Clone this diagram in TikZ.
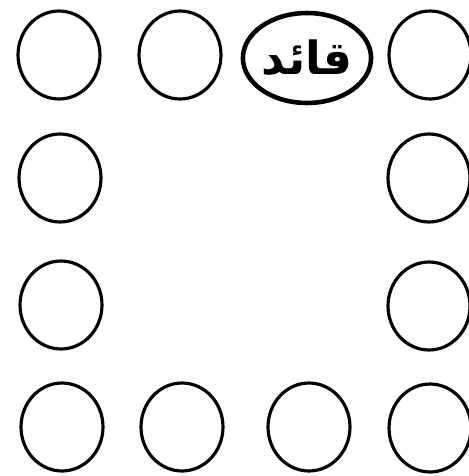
\documentclass[tikz,border=0pt]{standalone}
\usepackage{fontspec}
\newfontfamily\arabicfont[Script=Arabic]{DejaVu Sans}
\TeXXeTstate=1
\usetikzlibrary{shapes.geometric}
\tikzset{
  posto/.style={draw,ellipse,line width=1.8pt,minimum width=1.64cm,minimum height=1.76cm,inner sep=0pt},
  capo/.style={draw,ellipse,line width=2.6pt,minimum width=2.52cm,minimum height=1.8cm,inner sep=0pt}
}
\begin{document}
\begin{tikzpicture}[x=0.02cm,y=-0.02cm]
        \useasboundingbox (0,0) rectangle (469,476);
        % Riga in alto
        \node [posto] (a1) at (59,55) {};
        \node [posto] (a2) at (180,55) {};
        \node [capo] (capo) at (307,58) {\arabicfont\bfseries\fontsize{26}{26}\selectfont\beginR قائد\endR};
        \node [posto] (a4) at (430,55) {};
        % Lati
        \node [posto] (b1) at (60,178) {};
        \node [posto] (b4) at (429,178) {};
        \node [posto] (c1) at (61,305) {};
        \node [posto] (c4) at (429,306) {};
        % Riga in basso
        \node [posto] (d1) at (62,427) {};
        \node [posto] (d2) at (182,427) {};
        \node [posto] (d3) at (309,427) {};
        \node [posto] (d4) at (430,428) {};
    \end{tikzpicture}
\end{document}
